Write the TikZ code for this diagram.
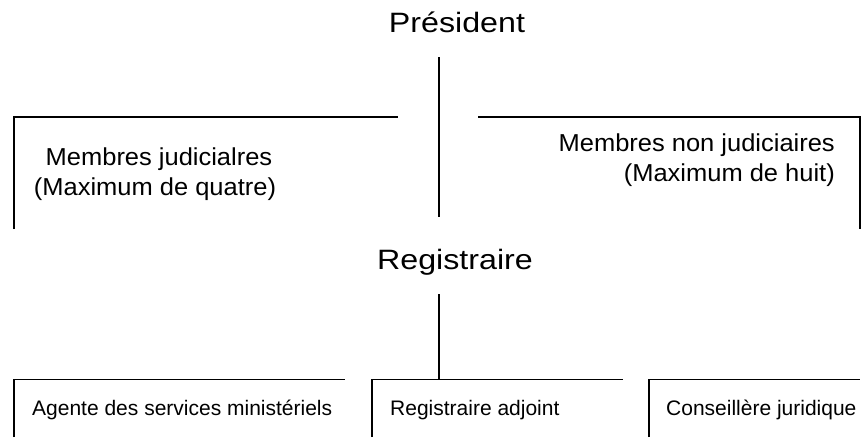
\documentclass[tikz,border=0pt]{standalone}
\usepackage{fontspec}
\setmainfont{Liberation Sans}
\newfontfamily\titlefont[FakeStretch=1.15]{Liberation Sans}
\newfontfamily\midfont[FakeStretch=1.04]{Liberation Sans}
\begin{document}
\begin{tikzpicture}[x=1pt,y=-1pt,
  edge/.style={line width=1.3pt, black},
  title/.style={inner sep=0pt, anchor=base, font=\titlefont\fontsize{28}{34}\selectfont},
  midtxt/.style={inner sep=0pt, font=\midfont\fontsize{24.5}{30}\selectfont},
  lowtxt/.style={inner sep=0pt, anchor=base west, font=\fontsize{21}{25}\selectfont}]
\useasboundingbox[fill=white] (0,0) rectangle (865,437);

% titles
\node[title] (pres) at (457,32.7) {Président};
\node[title] (reg) at (455,269.3) {Registraire};

% president to registraire line
\coordinate (p1) at (439,57);
\coordinate (p2) at (439,217);
\draw[edge] (p1) -- (p2);

% left box (judicial members)
\coordinate (lb1) at (14,229);
\coordinate (lb2) at (14,117);
\coordinate (lb3) at (398,117);
\draw[edge] (lb1) -- (lb2) -- (lb3);
\node[midtxt, anchor=base] (jud1) at (159,165) {Membres judicialres};
\node[midtxt, anchor=base] (jud2) at (155,195) {(Maximum de quatre)};

% right box (non-judicial members)
\coordinate (rb1) at (478,117);
\coordinate (rb2) at (860,117);
\coordinate (rb3) at (860,229);
\draw[edge] (rb1) -- (rb2) -- (rb3);
\node[midtxt, anchor=base east] (njud1) at (835,151) {Membres non judiciaires};
\node[midtxt, anchor=base east] (njud2) at (835,181) {(Maximum de huit)};

% registraire to bottom row
\coordinate (r1) at (439,294);
\coordinate (r2) at (439,379.3);
\draw[edge] (r1) -- (r2);

% bottom boxes
\coordinate (a1) at (14,437);
\coordinate (a2) at (14,379.3);
\coordinate (a3) at (345,379.3);
\draw[edge] (a1) -- (a2) -- (a3);
\node[lowtxt] (agente) at (32,415) {Agente des services ministériels};

\coordinate (b1) at (372,437);
\coordinate (b2) at (372,379.3);
\coordinate (b3) at (623,379.3);
\draw[edge] (b1) -- (b2) -- (b3);
\node[lowtxt] (adj) at (390,415) {Registraire adjoint};

\coordinate (c1) at (649,437);
\coordinate (c2) at (649,379.3);
\coordinate (c3) at (860,379.3);
\draw[edge] (c1) -- (c2) -- (c3);
\node[lowtxt] (cons) at (666,415) {Conseillère juridique};
\end{tikzpicture}
\end{document}
